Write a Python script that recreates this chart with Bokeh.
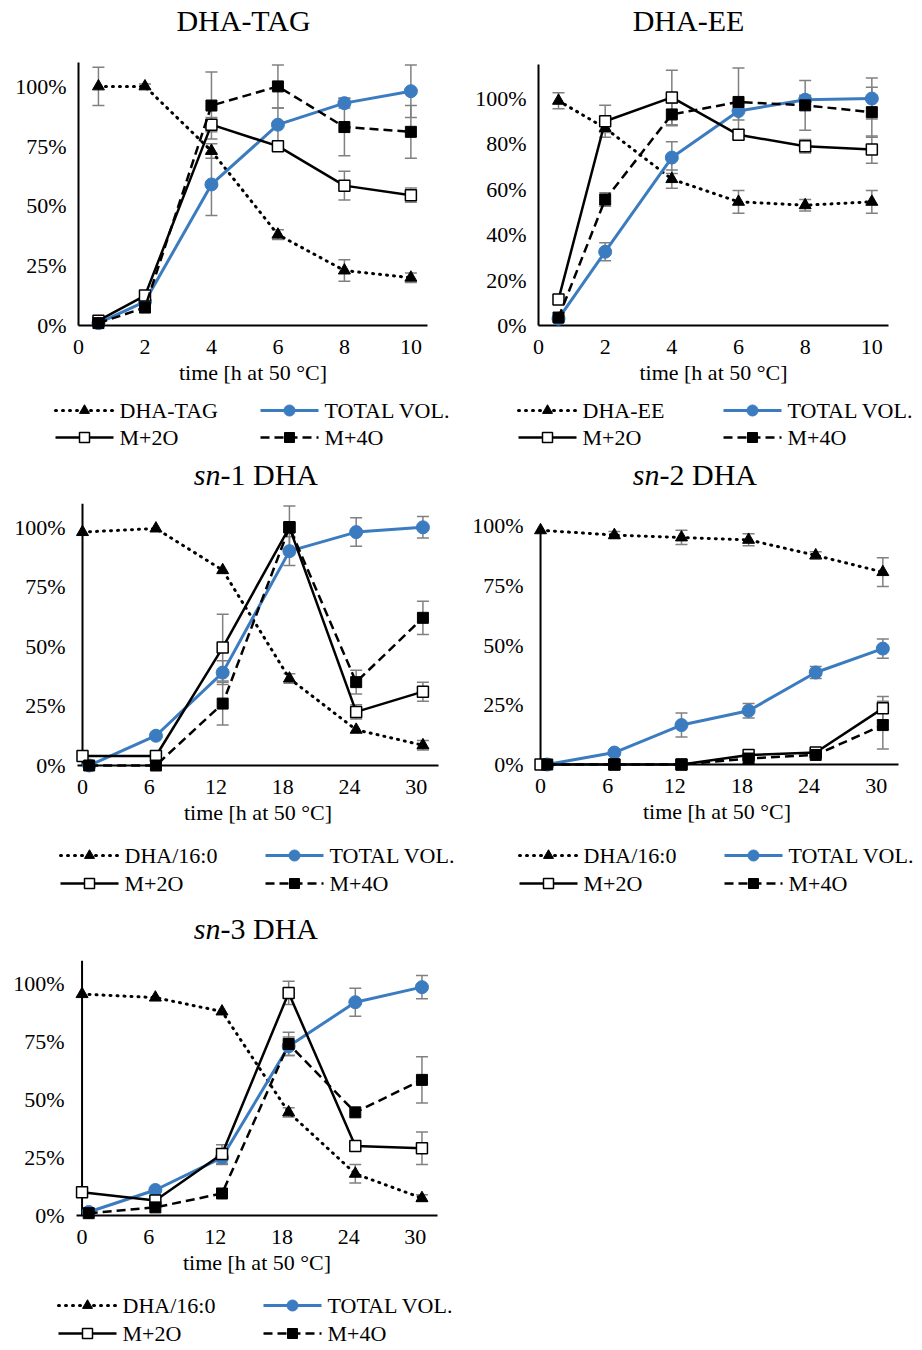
from bokeh.plotting import figure
from bokeh.layouts import column, row
from bokeh.models import (Range1d, FixedTicker, PrintfTickFormatter,
                          Whisker, TeeHead, ColumnDataSource, Span)
from bokeh.core.properties import value
from bokeh.embed import file_html
from bokeh.resources import INLINE

FONT = "Liberation Serif"
BLUE = "#3b7bbf"
GRAY = "#808080"

# ---------------- data ----------------
# DHA-TAG panel
t_tag = [0.6, 2, 4, 6, 8, 10]
tag_dha = [100, 100, 73, 38, 23, 20]
tag_dha_err = [8, 1, 3, 2, 4.5, 2]
tag_total = [1, 10, 59, 84, 93, 98]
tag_total_err = [0, 0, 13, 7, 2, 11]
tag_m2o = [2, 12.5, 84, 75, 58.5, 54.5]
tag_m2o_err = [0, 0, 3, 0, 6, 3]
tag_m4o = [1, 7.5, 92, 100, 83, 81]
tag_m4o_err = [0, 0, 14, 9, 12, 11]

# DHA-EE panel
t_ee = [0.6, 2, 4, 6, 8, 10]
ee_dha = [99, 87, 64.5, 54.5, 53, 54.5]
ee_dha_err = [3.5, 2, 4, 5, 2.5, 5]
ee_total = [3, 32.5, 74, 94.5, 99.5, 100]
ee_total_err = [0, 4, 7, 4, 2, 9]
ee_m2o = [11.5, 90, 100.5, 84, 79, 77.5]
ee_m2o_err = [0, 7, 12, 2, 3, 6]
ee_m4o = [3.5, 55.5, 93, 98.5, 97, 94]
ee_m4o_err = [0, 3, 5, 15, 11, 11]

# sn panels: time points
t_sn_a = [0, 6.6, 12.6, 18.6, 24.6, 30.6]
t_sn_b = [0.6, 6.6, 12.6, 18.6, 24.6, 30.6]

# sn-1 DHA
sn1_dha = [98, 99.5, 82, 36.5, 15, 8.5]
sn1_dha_err = [0, 0, 0, 2, 0, 2]
sn1_total = [0, 12.5, 39, 90, 98, 100]
sn1_total_err = [0, 0, 5, 6, 6, 4.5]
sn1_m2o = [4, 4, 49.5, 100, 22.5, 31]
sn1_m2o_err = [0, 0, 14, 0, 3, 4]
sn1_m4o = [0, 0, 26, 100, 35, 62]
sn1_m4o_err = [0, 0, 9, 9, 5, 7]

# sn-2 DHA
sn2_dha = [98, 96, 95, 94, 87.5, 80.5]
sn2_dha_err = [0, 1.5, 3, 2.5, 1.5, 6]
sn2_total = [0, 5, 16.5, 22.5, 38.5, 48.5]
sn2_total_err = [0, 0, 5, 3, 2.5, 4]
sn2_m2o = [0, 0, 0, 4, 5, 23.5]
sn2_m2o_err = [0, 0, 0, 0, 0, 5]
sn2_m4o = [0, 0, 0, 2.5, 4, 16.5]
sn2_m4o_err = [0, 0, 0, 0, 0, 10]

# sn-3 DHA
sn3_dha = [95.5, 94, 88, 44.5, 18, 7.5]
sn3_dha_err = [0, 0, 0, 2, 4, 1.5]
sn3_total = [1.5, 11, 25, 73, 92, 98.5]
sn3_total_err = [0, 0, 3, 4, 6, 5]
sn3_m2o = [10, 6.5, 26.5, 96, 30, 29]
sn3_m2o_err = [0, 0, 4, 5, 0, 7]
sn3_m4o = [1, 3.5, 9.5, 74, 44.5, 58.5]
sn3_m4o_err = [0, 0, 0, 5, 0, 10]

x_ticks_h10 = [0, 2, 4, 6, 8, 10]
x_ticks_h30 = [0, 6, 12, 18, 24, 30]
y_ticks_25 = [0, 25, 50, 75, 100]
y_ticks_20 = [0, 20, 40, 60, 80, 100]
x_label = "time [h at 50 °C]"
legend_labels_tag = ["DHA-TAG", "TOTAL VOL.", "M+2O", "M+4O"]
legend_labels_ee = ["DHA-EE", "TOTAL VOL.", "M+2O", "M+4O"]
legend_labels_sn = ["DHA/16:0", "TOTAL VOL.", "M+2O", "M+4O"]

STYLES = [
    dict(line_color="black", line_width=3, line_dash="1 6", line_cap="round",
         marker="triangle", size=12, lsize=10, fill_color="black", mline="black", mlw=1),
    dict(line_color=BLUE, line_width=3, line_dash="solid", line_cap="butt",
         marker="circle", size=13, lsize=11, fill_color=BLUE, mline=BLUE, mlw=1),
    dict(line_color="black", line_width=2.5, line_dash="solid", line_cap="butt",
         marker="square", size=11, lsize=10, fill_color="white", mline="black", mlw=1.5),
    dict(line_color="black", line_width=2.5, line_dash="9 5", line_cap="butt",
         marker="square", size=11, lsize=10, fill_color="black", mline="black", mlw=1),
]

W = 461
TITLE_H = 45
LEG_TOP = 393
ROW_H = 450
MAIN_H = LEG_TOP - TITLE_H
LEG_H = ROW_H - LEG_TOP
GLYPH_W = 58
COL_STEP = 205


def strip_fig(h, left, right):
    # a strip whose data coordinates equal the panel's pixel coordinates
    f = figure(width=W, height=h, x_range=Range1d(left, W - right), y_range=Range1d(0, h),
               x_axis_type=None, y_axis_type=None, output_backend="svg",
               toolbar_location=None, min_border_left=left, min_border_right=right,
               min_border_top=0, min_border_bottom=0)
    f.outline_line_color = None
    f.grid.visible = False
    return f


def make_panel(title, series, labels, xr, yr, xticks, yticks,
               left, right, top, frame_bottom, title_cx, title_mid, leg_x, leg_rows,
               y_axis_at_zero=False, italic_prefix=None):
    # ---- title strip ----
    tf = strip_fig(TITLE_H, left, right)
    ty = TITLE_H - title_mid
    if italic_prefix is None:
        tf.text(x=[title_cx], y=[ty], text=[title], text_font=value(FONT),
                text_font_size=value("30px"), text_align="center",
                text_baseline="middle", text_color="black", level="overlay")
    else:
        split = title_cx - 35
        tf.text(x=[split], y=[ty], text=[italic_prefix], text_font=value(FONT),
                text_font_size=value("30px"), text_font_style="italic", text_align="right",
                text_baseline="middle", text_color="black", level="overlay")
        tf.text(x=[split], y=[ty], text=[title], text_font=value(FONT),
                text_font_size=value("30px"), text_align="left",
                text_baseline="middle", text_color="black", level="overlay")

    # ---- main plot ----
    p = figure(width=W, height=MAIN_H, x_range=Range1d(*xr), y_range=Range1d(*yr),
               output_backend="svg", toolbar_location=None,
               min_border_left=left, min_border_right=right,
               min_border_top=top - TITLE_H, min_border_bottom=LEG_TOP - frame_bottom)
    p.outline_line_color = None
    p.grid.visible = False
    p.background_fill_color = "white"

    for ax in (p.xaxis[0], p.yaxis[0]):
        ax.axis_line_color = "black"
        ax.axis_line_width = 2
        ax.major_tick_line_color = None
        ax.minor_tick_line_color = None
        ax.major_tick_out = 0
        ax.major_tick_in = 0
        ax.major_label_text_font = FONT
        ax.major_label_text_font_size = "22px"
        ax.major_label_text_color = "black"
        ax.axis_label_text_font = FONT
        ax.axis_label_text_font_size = "22px"
        ax.axis_label_text_font_style = "normal"
        ax.axis_label_text_color = "black"
    p.xaxis.ticker = FixedTicker(ticks=xticks)
    p.yaxis.ticker = FixedTicker(ticks=yticks)
    p.yaxis.formatter = PrintfTickFormatter(format="%d%%")
    p.xaxis.axis_label = x_label
    p.xaxis.major_label_standoff = 14
    p.xaxis.axis_label_standoff = 3
    p.yaxis.major_label_standoff = 12
    if y_axis_at_zero:
        p.yaxis.axis_line_color = None
        p.add_layout(Span(location=0, dimension="height", line_color="black", line_width=2))

    for (xs, ys, errs), st in zip(series, STYLES):
        bx = [x for x, e in zip(xs, errs) if e > 0]
        up = [y + e for y, e in zip(ys, errs) if e > 0]
        lo = [y - e for y, e in zip(ys, errs) if e > 0]
        if bx:
            src = ColumnDataSource(dict(x=bx, u=up, l=lo))
            p.add_layout(Whisker(base="x", upper="u", lower="l", source=src,
                                 line_color=GRAY, line_width=1.5,
                                 upper_head=TeeHead(size=12, line_color=GRAY, line_width=1.5),
                                 lower_head=TeeHead(size=12, line_color=GRAY, line_width=1.5)))

    for (xs, ys, errs), st in zip(series, STYLES):
        src = ColumnDataSource(dict(x=xs, y=ys))
        p.line("x", "y", source=src, line_color=st["line_color"], line_width=st["line_width"],
               line_dash=st["line_dash"], line_cap=st["line_cap"], level="overlay")
        p.scatter("x", "y", source=src, marker=st["marker"], size=st["size"],
                  fill_color=st["fill_color"], line_color=st["mline"], line_width=st["mlw"],
                  level="overlay")

    # ---- legend strip (2 x 2 key) ----
    lf = strip_fig(LEG_H, left, right)
    for i, (st, lab) in enumerate(zip(STYLES, labels)):
        x0 = leg_x + (i % 2) * COL_STEP
        yk = LEG_H - (leg_rows[i // 2] - LEG_TOP)
        lf.line(x=[x0, x0 + GLYPH_W], y=[yk, yk], line_color=st["line_color"],
                line_width=st["line_width"], line_dash=st["line_dash"],
                line_cap=st["line_cap"], level="overlay")
        lf.scatter(x=[x0 + GLYPH_W / 2], y=[yk], marker=st["marker"], size=st["lsize"],
                   fill_color=st["fill_color"], line_color=st["mline"], line_width=st["mlw"],
                   level="overlay")
        lf.text(x=[x0 + GLYPH_W + 6], y=[yk], text=[lab], text_font=value(FONT),
                text_font_size=value("22px"), text_align="left", text_baseline="middle",
                text_color="black", level="overlay")

    return column(tf, p, lf)


c1 = make_panel("DHA-TAG",
                [(t_tag, tag_dha, tag_dha_err), (t_tag, tag_total, tag_total_err),
                 (t_tag, tag_m2o, tag_m2o_err), (t_tag, tag_m4o, tag_m4o_err)],
                legend_labels_tag, (0, 10.5), (0, 110),
                x_ticks_h10, y_ticks_25, 78, 34, 62, 325, 243, 20, 55, (410, 437))
c2 = make_panel("DHA-EE",
                [(t_ee, ee_dha, ee_dha_err), (t_ee, ee_total, ee_total_err),
                 (t_ee, ee_m2o, ee_m2o_err), (t_ee, ee_m4o, ee_m4o_err)],
                legend_labels_ee, (0, 10.5), (0, 115),
                x_ticks_h10, y_ticks_20, 77, 34, 64, 325, 227, 20, 57, (410, 437))
c3 = make_panel("-1 DHA",
                [(t_sn_a, sn1_dha, sn1_dha_err), (t_sn_b, sn1_total, sn1_total_err),
                 (t_sn_a, sn1_m2o, sn1_m2o_err), (t_sn_b, sn1_m4o, sn1_m4o_err)],
                legend_labels_sn, (-0.45, 32), (0, 110),
                x_ticks_h30, y_ticks_25, 77, 23, 53, 315, 255, 24, 60, (405, 433),
                y_axis_at_zero=True, italic_prefix="sn")
c4 = make_panel("-2 DHA",
                [(t_sn_a, sn2_dha, sn2_dha_err), (t_sn_b, sn2_total, sn2_total_err),
                 (t_sn_a, sn2_m2o, sn2_m2o_err), (t_sn_b, sn2_m4o, sn2_m4o_err)],
                legend_labels_sn, (-0.45, 32), (0, 100),
                x_ticks_h30, y_ticks_25, 74, 24, 75, 314, 233, 24, 58, (405, 433),
                y_axis_at_zero=True, italic_prefix="sn")
c5 = make_panel("-3 DHA",
                [(t_sn_a, sn3_dha, sn3_dha_err), (t_sn_b, sn3_total, sn3_total_err),
                 (t_sn_a, sn3_m2o, sn3_m2o_err), (t_sn_b, sn3_m4o, sn3_m4o_err)],
                legend_labels_sn, (-0.5, 32), (0, 110),
                x_ticks_h30, y_ticks_25, 76, 24, 60, 315, 255, 28, 58, (405, 433),
                y_axis_at_zero=True, italic_prefix="sn")

layout = column(row(c1, c2), row(c3, c4), row(c5))
open("out.html", "w").write(file_html(layout, INLINE))
